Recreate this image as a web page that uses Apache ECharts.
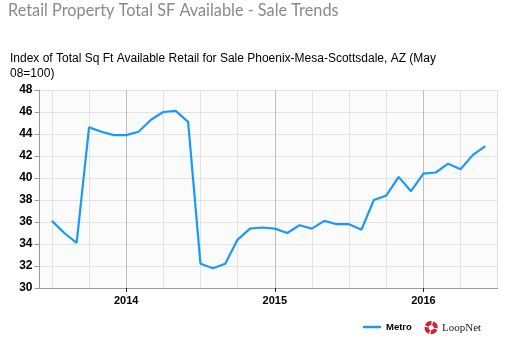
<!DOCTYPE html>
<html>
<head>
<meta charset="utf-8">
<script src="https://cdn.jsdelivr.net/npm/echarts@6/dist/echarts.min.js"></script>
<style>
  html, body { margin: 0; padding: 0; background: #ffffff; }
  #chart { width: 505px; height: 343px; }
</style>
</head>
<body>
<div id="chart"></div>
<script>
// Monthly index, Jun 2013 .. Jul 2016 (axis ends carry no value)
const months = [
  '2013-06', '2013-07', '2013-08', '2013-09', '2013-10', '2013-11', '2013-12',
  '2014-01', '2014-02', '2014-03', '2014-04', '2014-05', '2014-06',
  '2014-07', '2014-08', '2014-09', '2014-10', '2014-11', '2014-12',
  '2015-01', '2015-02', '2015-03', '2015-04', '2015-05', '2015-06',
  '2015-07', '2015-08', '2015-09', '2015-10', '2015-11', '2015-12',
  '2016-01', '2016-02', '2016-03', '2016-04', '2016-05', '2016-06',
  '2016-07'
];
const metro = [
  null,
  36.1, 35.0, 34.1, 44.6, 44.2, 43.9,
  43.9, 44.2, 45.3, 46.0, 46.1, 45.1,
  32.2, 31.8, 32.2, 34.4, 35.4, 35.5,
  35.4, 35.0, 35.7, 35.4, 36.1, 35.8,
  35.8, 35.3, 38.0, 38.4, 40.1, 38.8,
  40.4, 40.5, 41.3, 40.8, 42.1, 42.9,
  null
];
const yTicks = { min: 30, max: 48, step: 2 };

const chartTitle = 'Retail Property Total SF Available - Sale Trends';
const chartSubtitle = 'Index of Total Sq Ft Available Retail for Sale Phoenix-Mesa-Scottsdale, AZ (May\n08=100)';
const seriesName = 'Metro';

const isJanuary = (i) => months[i] && months[i].slice(5) === '01';
const isQuarter = (i) => i > 0 && ['01', '04', '07', '10'].includes(months[i].slice(5));

const chart = echarts.init(document.getElementById('chart'), null, { renderer: 'canvas' });

chart.setOption({
  animation: false,
  title: [
    {
      text: chartTitle,
      left: 8, top: 3, padding: 0,
      textStyle: { fontFamily: 'Lato', fontWeight: 'normal', fontSize: 16.3, color: '#8a8a8a' }
    },
    {
      text: chartSubtitle,
      left: 10, top: 51, padding: 0,
      textStyle: { fontFamily: 'Liberation Sans', fontWeight: 'normal', fontSize: 12, color: '#000', lineHeight: 15 }
    }
  ],
  legend: {
    data: [{ name: seriesName, icon: 'rect' }],
    left: 363, top: 322, padding: 0,
    itemWidth: 18, itemHeight: 2.5, itemGap: 10,
    textStyle: { fontFamily: 'Liberation Sans', fontWeight: 'bold', fontSize: 9.5, color: '#000', padding: [0, 0, 0, 0] },
    selectedMode: false
  },
  grid: {
    left: 39.5, right: 7.3, top: 90, bottom: 55,
    show: true, backgroundColor: '#fbfbfb', borderWidth: 0
  },
  xAxis: [
    {
      type: 'category',
      data: months,
      boundaryGap: false,
      axisLine: { show: true, lineStyle: { color: '#9a9a9a', width: 1 } },
      axisTick: { show: true, interval: (i) => isJanuary(i), length: 4, lineStyle: { color: '#222' } },
      axisLabel: {
        interval: (i) => isJanuary(i),
        formatter: (v) => v.slice(0, 4),
        fontFamily: 'Liberation Sans', fontWeight: 'bold', fontSize: 11, color: '#000', margin: 7
      },
      splitLine: { show: true, interval: (i) => isQuarter(i) && !isJanuary(i), lineStyle: { color: '#e2e2e2', width: 1 } }
    },
    {
      type: 'category',
      data: months,
      boundaryGap: false,
      position: 'top',
      axisLine: { show: false },
      axisTick: { show: false },
      axisLabel: { show: false },
      splitLine: { show: true, interval: (i) => isJanuary(i), lineStyle: { color: '#bdbdbd', width: 1 } }
    }
  ],
  yAxis: {
    type: 'value',
    min: yTicks.min, max: yTicks.max, interval: yTicks.step,
    axisLine: { show: true, lineStyle: { color: '#9a9a9a', width: 1 } },
    axisTick: { show: true, length: 5, lineStyle: { color: '#9a9a9a' } },
    axisLabel: { fontFamily: 'Liberation Sans', fontWeight: 'bold', fontSize: 12, color: '#000', margin: 7 },
    splitLine: { show: true, lineStyle: { color: '#e2e2e2', width: 1 } }
  },
  series: [
    {
      name: seriesName,
      type: 'line',
      data: metro,
      xAxisIndex: 0,
      symbol: 'none',
      connectNulls: false,
      lineStyle: { color: '#1b9af7', width: 2.2 },
      itemStyle: { color: '#1b9af7' }
    }
  ],
  graphic: [
    {
      type: 'group',
      left: 424.5, top: 321,
      children: [0, 1, 2, 3].map((k) => ({
        type: 'sector',
        shape: {
          cx: 7, cy: 7, r0: 2.6, r: 6.6,
          startAngle: (k * 90 + 20) * Math.PI / 180,
          endAngle: (k * 90 + 95) * Math.PI / 180
        },
        style: { fill: '#d3202f' }
      }))
    },
    {
      type: 'text',
      left: 442, top: 322.5,
      style: { text: 'LoopNet', font: '11px "Liberation Serif"', fill: '#222' }
    },
    {
      type: 'text',
      left: 477, top: 324,
      style: { text: '·', font: 'bold 8px "Liberation Sans"', fill: '#555' }
    }
  ]
});
</script>
</body>
</html>
